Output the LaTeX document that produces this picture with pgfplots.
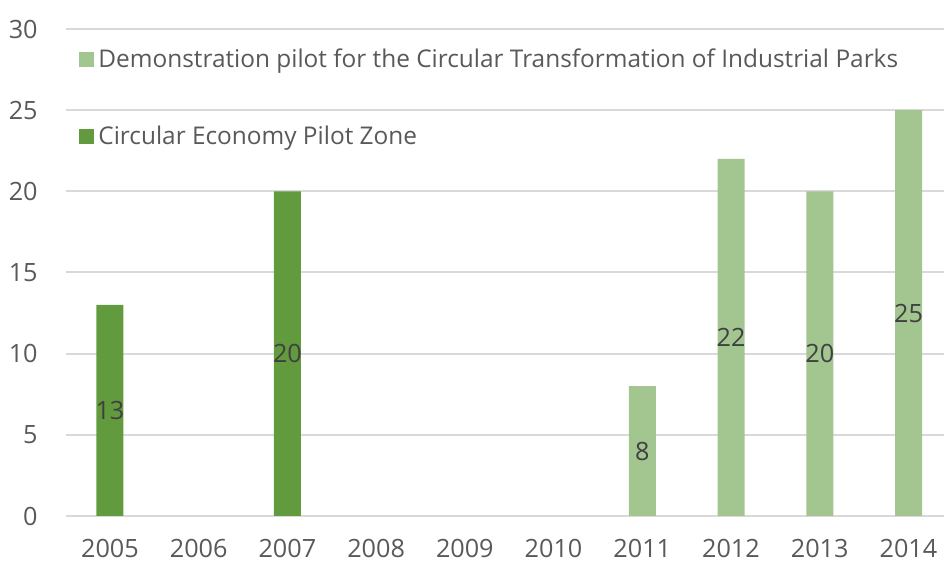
\documentclass[border=0pt]{standalone}
\usepackage{fontspec}
\setmainfont{Open Sans}
\usepackage{pgfplots}
\pgfplotsset{compat=1.18}
\definecolor{darkbar}{HTML}{629B3E}
\definecolor{lightbar}{HTML}{A3C590}
\definecolor{gridgray}{HTML}{D9D9D9}
\definecolor{ticktext}{HTML}{595959}
\definecolor{valtext}{HTML}{404040}
\newcommand{\chartfont}{\fontsize{12.6}{15}\selectfont}
\newcommand{\legfont}{\fontsize{12.2}{15}\selectfont}
\begin{document}
\begin{tikzpicture}
\begin{axis}[
  scale only axis, width=439.2pt, height=243.5pt,
  xmin=2004.5, xmax=2014.4, ymin=0, ymax=30,
  xtick={2005,...,2014}, ytick={0,5,...,30},
  ymajorgrids, grid style={draw=gridgray, line width=1pt},
  axis line style={draw=none}, major tick length=0pt,
  tick label style={font=\chartfont, text=ticktext},
  /pgf/number format/1000 sep={}, /pgf/number format/assume math mode=true,
  yticklabel style={inner sep=0pt, anchor=east, xshift=-13.8pt},
  xticklabel style={inner sep=0pt, anchor=north, yshift=-11.5pt},
  ybar, bar width=13.5pt,
  legend style={draw=none, fill=none, at={(rel axis cs:0.0141,0.861)}, anchor=west,
    xshift=-2.5pt, yshift=-0.75pt,
    row sep=27.5pt, font=\legfont, text=ticktext, nodes={inner sep=0pt},
    /tikz/every odd column/.append style={column sep=2pt}},
  legend cell align=left,
  nodes near coords, visualization depends on={rawy \as \rawy},
  every node near coord/.append style={anchor=center, yshift=-\rawy*4.05833pt,
    text=valtext, font=\chartfont},
]
\addplot[fill=lightbar, draw=none, bar shift=0pt,
  legend image code/.code={\fill[lightbar] (0pt,-3.75pt) rectangle (7.5pt,3.75pt);}]
  coordinates {(2011,8) (2012,22) (2013,20) (2014,25)};
\addplot[fill=darkbar, draw=none, bar shift=0pt,
  legend image code/.code={\fill[darkbar] (0pt,-3.75pt) rectangle (7.5pt,3.75pt);}]
  coordinates {(2005,13) (2007,20)};
\legend{Demonstration pilot for the Circular Transformation of Industrial Parks, Circular Economy Pilot Zone}
\coordinate (o) at (rel axis cs:0,0);
\end{axis}
\pgfresetboundingbox
\useasboundingbox ([shift={(-32.8pt,-22.5pt)}]o) rectangle ([shift={(439.2pt,258pt)}]o);
\end{tikzpicture}
\end{document}
